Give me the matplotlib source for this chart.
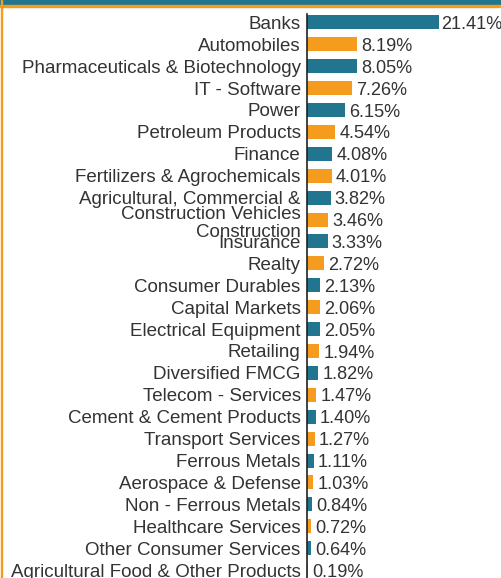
import matplotlib
matplotlib.use('Agg')
import matplotlib.pyplot as plt
import matplotlib.transforms as mtransforms
from matplotlib.patches import Rectangle

sectors = [
    'Banks', 'Automobiles', 'Pharmaceuticals & Biotechnology', 'IT - Software',
    'Power', 'Petroleum Products', 'Finance', 'Fertilizers & Agrochemicals',
    'Agricultural, Commercial &\nConstruction Vehicles', 'Construction',
    'Insurance', 'Realty', 'Consumer Durables', 'Capital Markets',
    'Electrical Equipment', 'Retailing', 'Diversified FMCG',
    'Telecom - Services', 'Cement & Cement Products', 'Transport Services',
    'Ferrous Metals', 'Aerospace & Defense', 'Non - Ferrous Metals',
    'Healthcare Services', 'Other Consumer Services',
    'Agricultural Food & Other Products',
]
weights = [21.41, 8.19, 8.05, 7.26, 6.15, 4.54, 4.08, 4.01, 3.82, 3.46,
           3.33, 2.72, 2.13, 2.06, 2.05, 1.94, 1.82, 1.47, 1.40, 1.27,
           1.11, 1.03, 0.84, 0.72, 0.64, 0.19]

TEAL = '#21758f'
ORANGE = '#f59b1e'
TEXT = '#333333'

plt.rcParams['font.family'] = ['Liberation Sans', 'DejaVu Sans']
W, H = 502, 578
fig = plt.figure(figsize=(W / 100, H / 100), dpi=100)

# axes placed in pixels: spine at x=307, top at y=14
ax_left, ax_top, ax_w, ax_h = 307, 14, 195, 578
ax = fig.add_axes([ax_left / W, (H - ax_top - ax_h) / H, ax_w / W, ax_h / H])

ypos = list(range(len(sectors)))
colors = [TEAL if i % 2 == 0 else ORANGE for i in ypos]
ax.barh(ypos, weights, height=0.64, color=colors)

ax.set_ylim(26.0, -0.38)
ax.set_xlim(0, 195 / 6.166)

for i, v in enumerate(weights):
    dx = 1.5 if i == 0 else 3
    ax.annotate(f'{v:.2f}%', (v, i), xytext=(dx, -1.5), textcoords='offset points',
                va='center', ha='left', fontsize=13.1, color=TEXT)

ax.set_yticks(ypos)
ax.set_yticklabels(sectors, fontsize=13.5, color=TEXT, linespacing=0.9)
ax.tick_params(axis='y', length=0, pad=4.5)
ax.set_xticks([])
for s in ['top', 'right', 'bottom']:
    ax.spines[s].set_visible(False)
ax.spines['left'].set_color('#222222')
ax.spines['left'].set_linewidth(1.2)

# nudge the two crowded labels down like in the reference
labels = ax.get_yticklabels()
for idx, dy in [(8, -8), (9, -11)]:
    lab = labels[idx]
    lab.set_transform(lab.get_transform() +
                      mtransforms.ScaledTranslation(0, dy / 100, fig.dpi_scale_trans))

# card border: teal band, orange rule, orange left edge
fig.patches.append(Rectangle((0, (H - 5) / H), 1, 5 / H, transform=fig.transFigure,
                             color=TEAL, zorder=0))
fig.patches.append(Rectangle((0, (H - 7) / H), 1, 2 / H, transform=fig.transFigure,
                             color=ORANGE, zorder=0))
fig.patches.append(Rectangle((1 / W, 0), 1.5 / W, 1, transform=fig.transFigure,
                             color=ORANGE, zorder=0))

fig.savefig('out.png', dpi=100)
